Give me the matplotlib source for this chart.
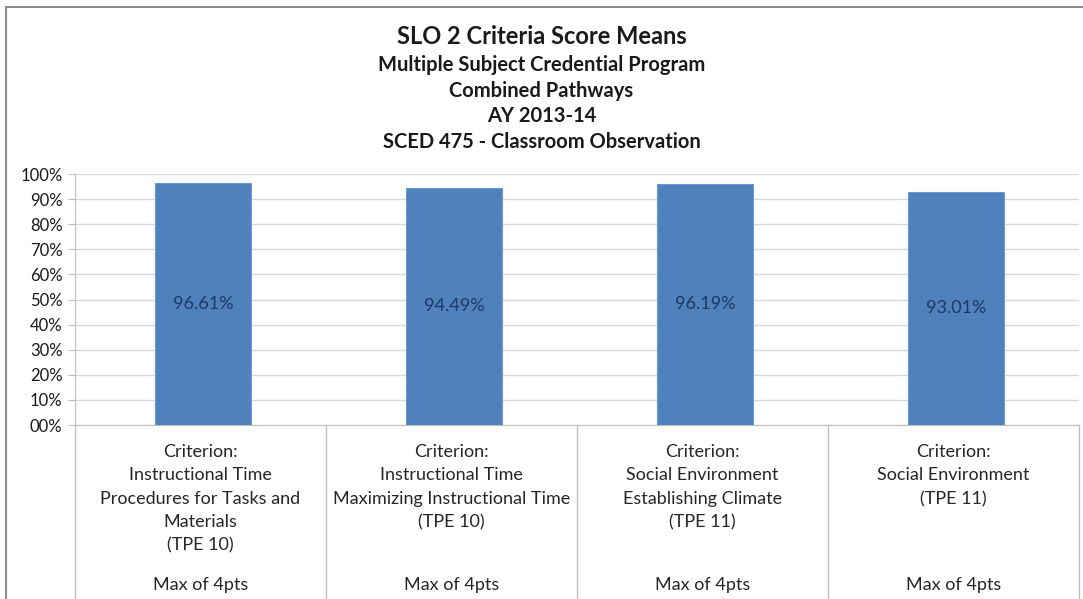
import matplotlib
matplotlib.use("Agg")
import matplotlib.pyplot as plt
from matplotlib.patches import Rectangle
from matplotlib.lines import Line2D
import matplotlib.transforms as mtransforms

plt.rcParams['font.family'] = ['Lato', 'DejaVu Sans']

# data
values = [96.61, 94.49, 96.19, 93.01]
value_labels = ['96.61%', '94.49%', '96.19%', '93.01%']
criteria = [
    'Criterion:\nInstructional Time\nProcedures for Tasks and\nMaterials\n(TPE 10)',
    'Criterion:\nInstructional Time\nMaximizing Instructional Time\n(TPE 10)',
    'Criterion:\nSocial Environment\nEstablishing Climate\n(TPE 11)',
    'Criterion:\nSocial Environment\n(TPE 11)',
]
max_note = 'Max of 4pts'
yticks = [0, 10, 20, 30, 40, 50, 60, 70, 80, 90, 100]
ytick_labels = ['00%', '10%', '20%', '30%', '40%', '50%', '60%', '70%', '80%', '90%', '100%']
title_lines = ['Multiple Subject Credential Program', 'Combined Pathways',
               'AY 2013-14', 'SCED 475 - Classroom Observation']

W, H = 1083, 599
fig = plt.figure(figsize=(W / 100, H / 100), dpi=100)
ax = fig.add_axes([75 / W, 1 - 425 / H, (1079 - 75) / W, (425 - 174) / H])
ah = 425 - 174  # axes height in px

x = range(len(values))
ax.bar([xi + 0.01 for xi in x], values, width=0.385, color='#4F81BD', edgecolor='#6A9AD6',
       linewidth=0.8, zorder=3)
for xi, v, lab in zip(x, values, value_labels):
    ax.text(xi + 0.01, v / 2, lab, ha='center', va='center', fontsize=13, color='#1F3864', zorder=4)

ax.set_xlim(-0.5, len(values) - 0.5)
ax.set_ylim(0, 100)
ax.set_yticks(yticks)
ax.set_yticklabels(ytick_labels, fontsize=12)
ax.set_xticks([])
ax.grid(True, axis='y', color='#D9D9D9', linewidth=1.0, zorder=0)
ax.tick_params(axis='y', length=5, color='#BFBFBF', pad=4, labelcolor='#1a1a1a')
for s in ['top', 'right']:
    ax.spines[s].set_visible(False)
ax.spines['left'].set_color('#BFBFBF')
ax.spines['bottom'].set_color('#BFBFBF')

# category table below axis
trans = mtransforms.blended_transform_factory(ax.transData, ax.transAxes)
bottom = -(H - 425 + 5) / ah
for b in [i - 0.5 for i in range(len(values) + 1)]:
    ax.add_line(Line2D([b, b], [0, bottom], transform=trans, color='#BFBFBF',
                       linewidth=1.0, clip_on=False))
for xi, lab in zip(x, criteria):
    ax.text(xi, -(444 - 425) / ah, lab, transform=trans, ha='center', va='top',
            fontsize=13, linespacing=1.57, color='#262626')
    ax.text(xi, -(585 - 425) / ah, max_note, transform=trans, ha='center',
            va='center', fontsize=13, color='#262626')

# titles
fig.text(0.5, 1 - 37 / H, 'SLO 2 Criteria Score Means', ha='center', va='center',
         fontsize=17, fontweight='bold', color='#1a1a1a')
for i, t in enumerate(title_lines):
    fig.text(0.5, 1 - (65 + i * 25.7) / H, t, ha='center', va='center',
             fontsize=14.5, fontweight='bold', color='#1a1a1a')

# chart border (left and top visible)
fig.patches.append(Rectangle((6 / W, -0.05), 1.1, 1 - 7 / H + 0.05, transform=fig.transFigure,
                             fill=False, edgecolor='#8C8C8C', linewidth=1.5))

fig.savefig('out.png', dpi=100)
